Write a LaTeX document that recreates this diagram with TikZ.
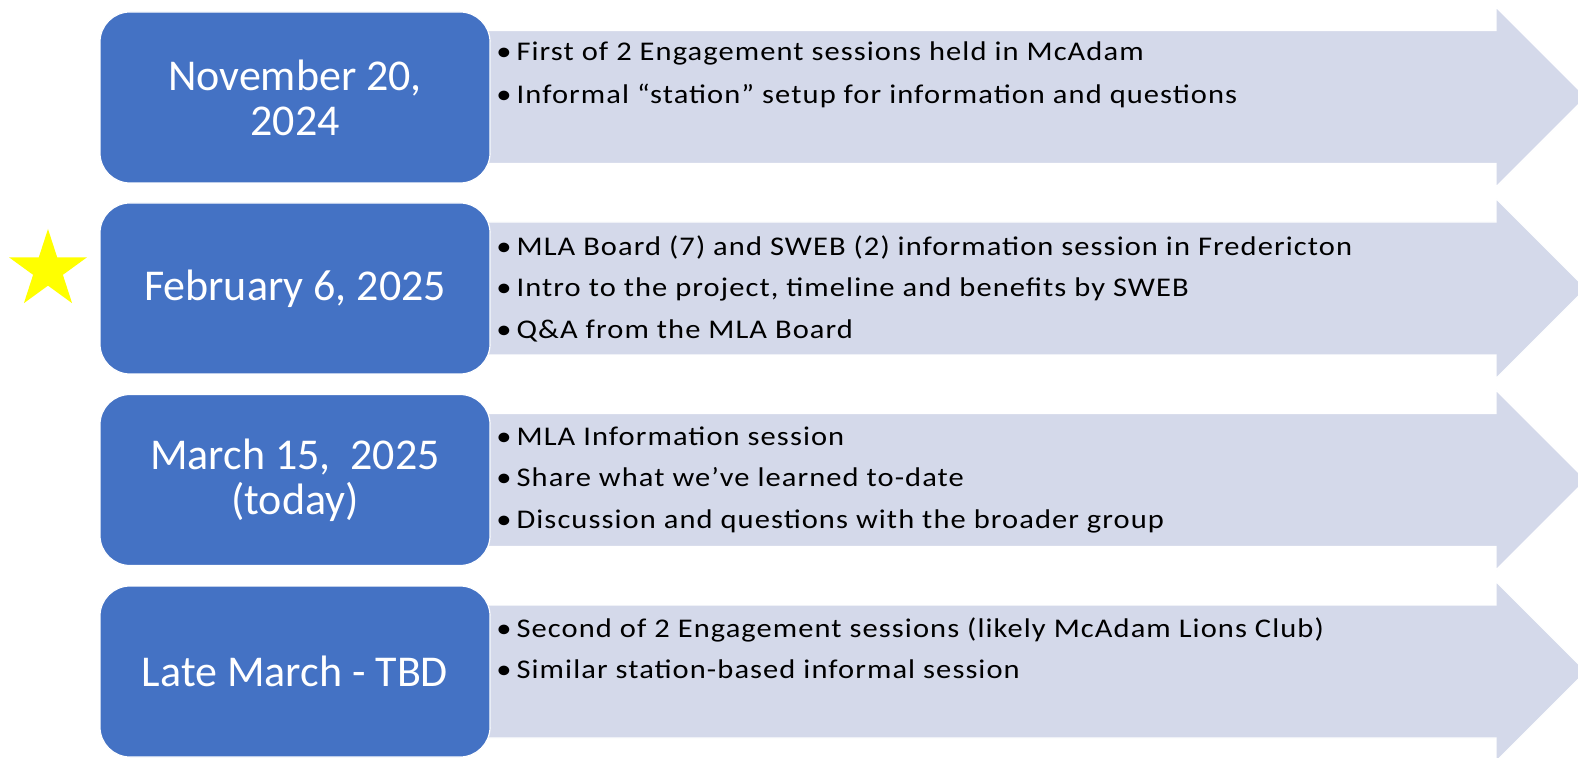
\documentclass[tikz,border=0pt]{standalone}
\usepackage{fontspec}
\setmainfont{Carlito}
\newfontfamily\listfont{Carlito}[FakeStretch=1.13,LetterSpace=4]
\usetikzlibrary{shapes.geometric}
\definecolor{dateblue}{HTML}{4472C4}
\definecolor{bandgrey}{HTML}{D4D9EA}
\definecolor{staryellow}{HTML}{FFFF00}
\newcommand{\bul}{\textbullet\hspace{2.5pt}}

\begin{document}
\begin{tikzpicture}[x=0.5pt,y=-0.5pt,
  datebox/.style={rectangle,rounded corners=15pt,fill=dateblue,draw=white,line width=0.6pt,
    minimum width=195pt,minimum height=85.5pt,text=white,align=center,
    font=\fontsize{22}{22.5}\selectfont},
  band/.style={fill=bandgrey,draw=white,line width=0.6pt},
  bullets/.style={anchor=north west,inner sep=0pt,align=left,font=\listfont\fontsize{13.5}{20.75}\selectfont}]
\clip (0,0) rectangle (1578,758);
\fill[white] (0,0) rectangle (1578,758);
% arrow bands
\draw[band] (470,30.5) -- (1496,30.5) -- (1496,7) -- (1586,97) -- (1496,187) -- (1496,163.5) -- (470,163.5) -- cycle;
\draw[band] (470,222) -- (1496,222) -- (1496,198.5) -- (1586,288.5) -- (1496,378.5) -- (1496,355) -- (470,355) -- cycle;
\draw[band] (470,413.5) -- (1496,413.5) -- (1496,390) -- (1586,480) -- (1496,570) -- (1496,546.5) -- (470,546.5) -- cycle;
\draw[band] (470,605) -- (1496,605) -- (1496,581.5) -- (1586,671.5) -- (1496,761.5) -- (1496,738) -- (470,738) -- cycle;
% date boxes
\node[datebox] (nov) at (295,97.5) {November 20,\\2024};
\node[datebox] (feb) at (295,288.5) {February 6, 2025};
\node[datebox] (mar) at (295,480) {March 15,\ \ 2025\\(today)};
\node[datebox] (late) at (295,671.5) {Late March - TBD};
% bullet lists
\node[bullets,font=\listfont\fontsize{13.5}{21.5}\selectfont] (novtext) at (496,41) {\bul First of 2 Engagement sessions held in McAdam\\
  \bul Informal “station” setup for information and questions};
\node[bullets] (febtext) at (496,235) {\bul MLA Board (7) and SWEB (2) information session in Fredericton\\
  \bul Intro to the project, timeline and benefits by SWEB\\
  \bul Q\&A from the MLA Board};
\node[bullets] (martext) at (496,426) {\bul MLA Information session\\
  \bul Share what we’ve learned to-date\\
  \bul Discussion and questions with the broader group};
\node[bullets] (latetext) at (496,617) {\bul Second of 2 Engagement sessions (likely McAdam Lions Club)\\
  \bul Similar station-based informal session};
% star marker
\node[star,star points=5,star point ratio=2.62,fill=staryellow,inner sep=0pt,minimum size=41pt] (mark) at (48,270) {};
\end{tikzpicture}
\end{document}
